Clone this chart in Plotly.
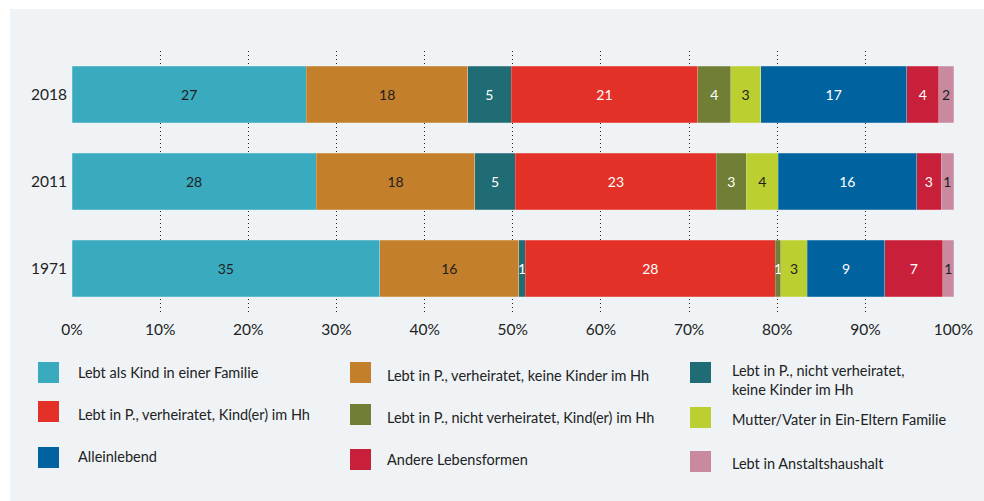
import plotly.graph_objects as go

years = ["2018", "2011", "1971"]
categories = [
    "Lebt als Kind in einer Familie",
    "Lebt in P., verheiratet, keine Kinder im Hh",
    "Lebt in P., nicht verheiratet,<br>keine Kinder im Hh",
    "Lebt in P., verheiratet, Kind(er) im Hh",
    "Lebt in P., nicht verheiratet, Kind(er) im Hh",
    "Mutter/Vater in Ein-Eltern Familie",
    "Alleinlebend",
    "Andere Lebensformen",
    "Lebt in Anstaltshaushalt",
]
# shares in % per year (2018, 2011, 1971)
kind_familie = [26.6, 27.7, 34.9]
verh_keine_kinder = [18.3, 18.0, 15.8]
nverh_keine_kinder = [4.9, 4.6, 0.7]
verh_kinder = [21.2, 22.8, 28.4]
nverh_kinder = [3.7, 3.4, 0.6]
ein_eltern = [3.4, 3.6, 3.0]
alleinlebend = [16.6, 15.7, 8.8]
andere = [3.6, 2.8, 6.6]
anstalt = [1.7, 1.4, 1.2]
x_ticks = [0, 10, 20, 30, 40, 50, 60, 70, 80, 90, 100]
x_ticklabels = [f"{v}%" for v in x_ticks]

series = [kind_familie, verh_keine_kinder, nverh_keine_kinder, verh_kinder,
          nverh_kinder, ein_eltern, alleinlebend, andere, anstalt]

colors = ["#3aabbf", "#c47f2c", "#206c74", "#e33127", "#707f35",
          "#bccf30", "#0063a0", "#c81f3a", "#c98aa0"]
text_colors = ["#1e1e1e", "#1e1e1e", "#ffffff", "#ffffff", "#ffffff",
               "#1e1e1e", "#ffffff", "#ffffff", "#1e1e1e"]

FONT = "Lato"
PANEL = "#eff3f6"

fig = go.Figure()
for name, vals, col, tcol in zip(categories, series, colors, text_colors):
    fig.add_trace(go.Bar(
        y=years, x=vals, name=name, orientation="h",
        marker=dict(color=col, line=dict(color="rgba(255,255,255,0.35)", width=0.6)),
        text=[f"{v:.0f}" for v in vals],
        textposition="inside", insidetextanchor="middle", textangle=0,
        textfont=dict(family=FONT, size=14, color=tcol),
        hoverinfo="skip", showlegend=False,
    ))

L, R, T, B = 72, 30, 51, 189
W, H = 984, 501
pw, ph = W - L - R, H - T - B

def px(xp):
    return (xp - L) / pw

def py(yp):
    return 1 - (yp - T) / ph

shapes = [dict(type="rect", xref="paper", yref="paper",
               x0=px(10), x1=px(984), y0=py(501), y1=py(9),
               fillcolor=PANEL, line=dict(width=0), layer="below")]
annotations = []

# legend (manual, three columns)
legend_pos = [  # (square x, square top y, text x, text y)
    (38, 362, 76, 372), (350, 362, 385, 375), (690, 362, 730, 380),
    (38, 401, 76, 414), (350, 404, 385, 417), (690, 407, 730, 419),
    (38, 447, 76, 456), (350, 449, 385, 459), (690, 451, 730, 463),
]
for name, col, (sx, sy, tx, ty) in zip(categories, colors, legend_pos):
    shapes.append(dict(type="rect", xref="paper", yref="paper",
                       x0=px(sx), x1=px(sx + 21), y0=py(sy + 21), y1=py(sy),
                       fillcolor=col, line=dict(width=0)))
    annotations.append(dict(xref="paper", yref="paper", x=px(tx), y=py(ty),
                            text=name, showarrow=False, xanchor="left",
                            yanchor="middle", align="left",
                            font=dict(family=FONT, size=14.5, color="#222222")))

fig.update_layout(
    width=W, height=H,
    margin=dict(l=L, r=R, t=T, b=B),
    paper_bgcolor="#ffffff", plot_bgcolor="rgba(0,0,0,0)",
    barmode="stack", bargap=0.345,
    uniformtext=dict(minsize=14, mode="show"),
    shapes=shapes, annotations=annotations,
    font=dict(family=FONT, color="#222222"),
    xaxis=dict(range=[0, 100.05], tickvals=x_ticks, ticktext=x_ticklabels,
               showgrid=True, gridcolor="#222222", griddash="1px,3px", gridwidth=1,
               zeroline=False, showline=False, ticks="",
               tickfont=dict(family=FONT, size=15.5, color="#222222"),
               ticklabelstandoff=6, fixedrange=True),
    yaxis=dict(categoryorder="array", categoryarray=years[::-1],
               showgrid=False, zeroline=False, showline=False, ticks="",
               tickfont=dict(family=FONT, size=15.5, color="#222222"),
               ticklabelstandoff=4, fixedrange=True),
)

fig.write_html(
    "out.html",
    config={"displayModeBar": False, "staticPlot": False},
    post_script="document.body.style.margin='0';document.body.style.overflow='hidden';",
)
